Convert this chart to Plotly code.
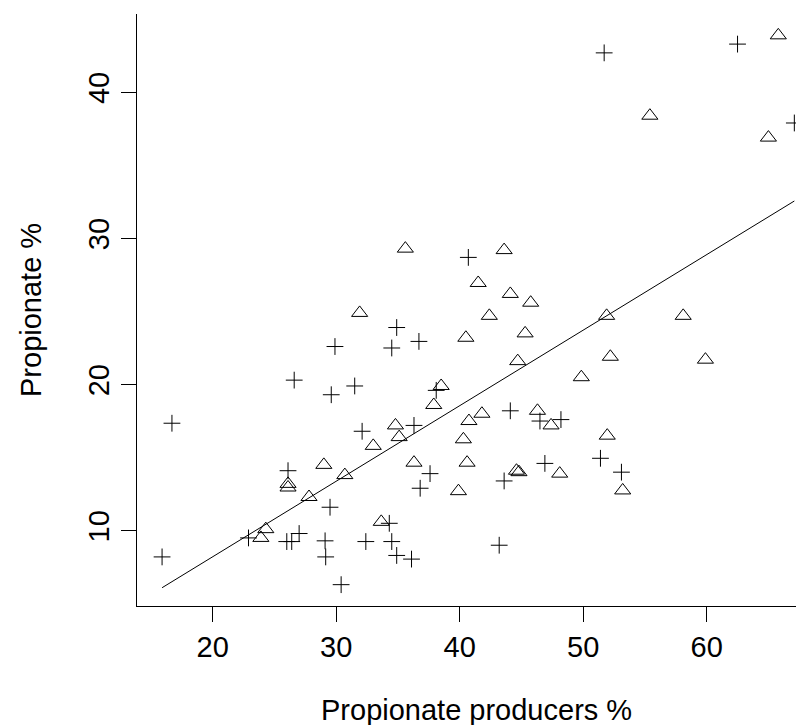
import plotly.graph_objects as go

# ---- data ----
plus_x = [15.9, 16.7, 22.9, 26.0, 26.4, 27.0, 26.1, 26.6, 29.1, 29.15,
          29.5, 29.6, 29.9, 30.4, 31.5, 32.1, 32.4, 34.3, 34.5, 34.9,
          34.5, 34.9, 36.1, 36.3, 36.7, 36.8, 37.6, 38.1, 40.7, 43.2,
          43.6, 44.1, 46.5, 46.9, 48.2, 51.4, 51.7, 53.1, 62.5, 67.1]
plus_y = [8.2, 17.35, 9.5, 9.25, 9.25, 9.8, 14.1, 20.3, 9.3, 8.2,
          11.6, 19.3, 22.6, 6.3, 19.9, 16.8, 9.25, 10.5, 9.25, 8.3,
          22.5, 23.9, 8.05, 17.2, 22.95, 12.9, 13.9, 19.6, 28.7, 9.0,
          13.4, 18.2, 17.5, 14.6, 17.6, 14.95, 42.7, 14.0, 43.3, 37.9]

tri_x = [23.9, 24.3, 26.1, 26.1, 27.8, 29.0, 30.7, 31.9, 33.0, 33.65,
         34.8, 35.1, 35.6, 36.3, 37.9, 38.5, 39.9, 40.3, 40.5, 40.6,
         40.75, 41.5, 41.8, 42.4, 43.6, 44.1, 44.7, 44.6, 44.8, 45.3,
         45.75, 46.3, 47.4, 48.1, 49.85, 51.9, 51.95, 52.2, 53.2, 55.4,
         58.1, 59.9, 65.0, 65.8]
tri_y = [9.5, 10.1, 13.2, 12.95, 12.3, 14.5, 13.8, 24.9, 15.8, 10.6,
         17.2, 16.4, 29.3, 14.65, 18.6, 19.9, 12.7, 16.25, 23.2, 14.65,
         17.5, 26.95, 18.0, 24.7, 29.2, 26.2, 21.6, 14.1, 14.0, 23.5,
         25.6, 18.2, 17.2, 13.9, 20.5, 24.7, 16.5, 21.9, 12.75, 38.4,
         24.7, 21.7, 36.9, 43.9]

fit_intercept = -2.13
fit_slope = 0.517

x_ticks = [20, 30, 40, 50, 60]
y_ticks = [10, 20, 30, 40]
x_title = "Propionate producers %"
y_title = "Propionate %"

# ---- figure ----
all_x = plus_x + tri_x
x_min, x_max = min(all_x), max(all_x)
line_x = [x_min, x_max]
line_y = [fit_intercept + fit_slope * v for v in line_x]

fig = go.Figure()
fig.add_trace(go.Scatter(
    x=line_x, y=line_y, mode="lines",
    line=dict(color="black", width=1), hoverinfo="skip"))
fig.add_trace(go.Scatter(
    x=plus_x, y=plus_y, mode="markers",
    marker=dict(symbol="cross-thin-open", size=12, color="black",
                line=dict(color="black", width=1))))
fig.add_trace(go.Scatter(
    x=tri_x, y=tri_y, mode="markers",
    marker=dict(symbol="triangle-up-open", size=14, color="black",
                line=dict(color="black", width=1))))

font_family = "Liberation Sans, Arial, sans-serif"
fsize = 29
fig.update_layout(
    width=804, height=725,
    margin=dict(l=129, r=0, t=6, b=127, pad=0),
    plot_bgcolor="white", paper_bgcolor="white",
    showlegend=False,
    font=dict(family=font_family, size=fsize, color="black"),
)
fig.update_xaxes(
    range=[13.87, 68.53], tickmode="array", tickvals=x_ticks,
    ticktext=[str(v) for v in x_ticks],
    ticks="outside", ticklen=15, tickwidth=1, tickcolor="black",
    showline=True, linecolor="black", linewidth=1,
    showgrid=False, zeroline=False,
)
fig.update_yaxes(
    range=[4.84, 45.36], tickmode="array", tickvals=y_ticks,
    ticktext=[str(v) for v in y_ticks], tickangle=-90,
    ticks="outside", ticklen=15, tickwidth=1, tickcolor="black",
    showline=True, linecolor="black", linewidth=1,
    showgrid=False, zeroline=False,
)

fig.add_annotation(
    text=x_title, xref="paper", yref="paper",
    x=(468 - 129) / 675, y=(597.7 - 701.7) / 591.7,
    xanchor="center", yanchor="middle", showarrow=False,
    font=dict(family=font_family, size=fsize, color="black"))
fig.add_annotation(
    text=y_title, xref="paper", yref="paper",
    x=(23 - 129) / 675, y=0.5, textangle=-90,
    xanchor="center", yanchor="middle", showarrow=False,
    font=dict(family=font_family, size=fsize, color="black"))

fig.write_html("out.html")
